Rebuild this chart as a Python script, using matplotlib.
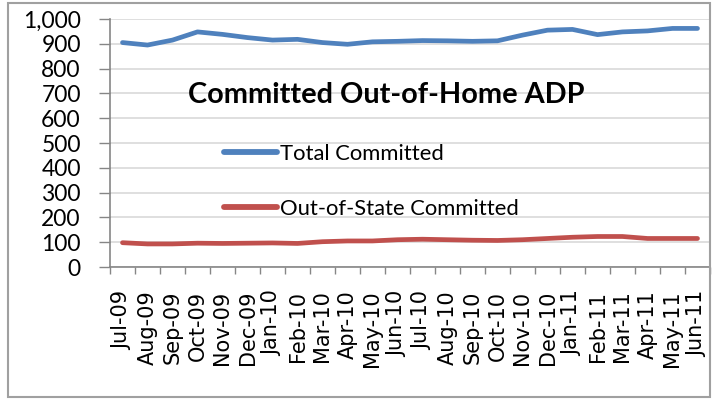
import matplotlib
matplotlib.use('Agg')
import matplotlib.pyplot as plt
from matplotlib.patches import Rectangle
import numpy as np

months = ['Jul-09', 'Aug-09', 'Sep-09', 'Oct-09', 'Nov-09', 'Dec-09',
          'Jan-10', 'Feb-10', 'Mar-10', 'Apr-10', 'May-10', 'Jun-10',
          'Jul-10', 'Aug-10', 'Sep-10', 'Oct-10', 'Nov-10', 'Dec-10',
          'Jan-11', 'Feb-11', 'Mar-11', 'Apr-11', 'May-11', 'Jun-11']
total = [905, 895, 915, 948, 938, 925, 915, 918, 905, 898, 908, 910,
         913, 912, 910, 912, 935, 955, 958, 937, 948, 952, 962, 962]
out_of_state = [98, 93, 93, 96, 95, 96, 97, 95, 102, 105, 105, 110,
                112, 110, 108, 107, 110, 115, 120, 123, 123, 115, 115, 115]
yticks = list(range(0, 1001, 100))

W, H = 719, 400
fig = plt.figure(figsize=(W / 100, H / 100), dpi=100)
ax = fig.add_axes([110 / W, 1 - 267 / H, 600 / W, 248 / H])

x = np.arange(len(months))
ax.plot(x, total, color='#4F81BD', lw=3.4, solid_capstyle='round', label='Total Committed')
ax.plot(x, out_of_state, color='#C0504D', lw=3.4, solid_capstyle='round', label='Out-of-State Committed')

ax.set_xlim(-0.5, len(months) - 0.5)
ax.set_ylim(0, 1000)
ax.set_yticks(yticks)
ax.set_yticklabels([f'{v:,}' for v in yticks], family='Lato', fontsize=16.5)
ax.set_xticks(x)
ax.set_xticklabels(months, rotation=90, family='DejaVu Sans', fontsize=15, va='top')
ax.set_xticks(np.arange(-0.5, len(months)), minor=True)
ax.tick_params(axis='x', which='major', length=0, pad=17)
ax.tick_params(axis='x', which='minor', length=5, color='#868686', width=1)
ax.tick_params(axis='y', length=8, color='#868686', width=1, pad=13)
ax.grid(axis='y', color='#D9D9D9', lw=1.2)
ax.set_axisbelow(True)
for side in ['top', 'right']:
    ax.spines[side].set_visible(False)
for side in ['left', 'bottom']:
    ax.spines[side].set_color('#868686')
    ax.spines[side].set_linewidth(1.2)

ax.text(0.46, 0.694, 'Committed Out-of-Home ADP', transform=ax.transAxes,
        ha='center', va='center', family='Lato', fontweight='bold', fontsize=20.8)

leg = ax.legend(loc='upper left', bbox_to_anchor=(224 / W, 1 - 144 / H),
                bbox_transform=fig.transFigure, frameon=False,
                prop={'family': 'Lato', 'size': 15.8}, handlelength=2.4,
                handletextpad=0.15, labelspacing=1.58, borderpad=0, borderaxespad=0)
for h in leg.get_lines():
    h.set_linewidth(4.2)

fig.patches.append(Rectangle((8 / W, 3 / H), 702 / W, 394 / H, transform=fig.transFigure,
                             fill=False, edgecolor='#A0A0A0', lw=1.5))

fig.savefig('out.png', dpi=100)
